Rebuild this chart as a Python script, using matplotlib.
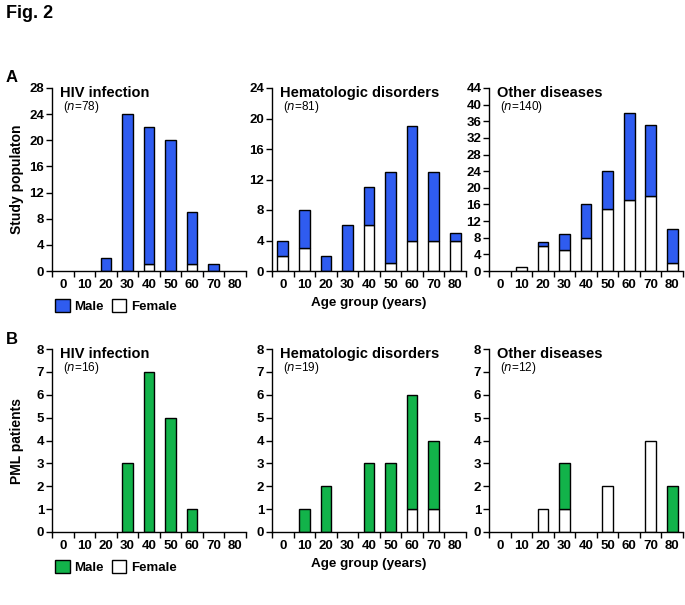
import matplotlib
matplotlib.use("Agg")
import matplotlib.pyplot as plt
from matplotlib.patches import Patch
import numpy as np

plt.rcParams['font.family'] = ['Liberation Sans', 'DejaVu Sans']

age_groups = ["0", "10", "20", "30", "40", "50", "60", "70", "80"]

# Panel A: study population (male, female)
a_hiv_male = [0, 0, 2, 24, 21, 20, 8, 1, 0]
a_hiv_female = [0, 0, 0, 0, 1, 0, 1, 0, 0]
a_hem_male = [2, 5, 2, 6, 5, 12, 15, 9, 1]
a_hem_female = [2, 3, 0, 0, 6, 1, 4, 4, 4]
a_oth_male = [0, 0, 1, 4, 8, 9, 21, 17, 8]
a_oth_female = [0, 1, 6, 5, 8, 15, 17, 18, 2]

# Panel B: PML patients (male, female)
b_hiv_male = [0, 0, 0, 3, 7, 5, 1, 0, 0]
b_hiv_female = [0, 0, 0, 0, 0, 0, 0, 0, 0]
b_hem_male = [0, 1, 2, 0, 3, 3, 5, 3, 0]
b_hem_female = [0, 0, 0, 0, 0, 0, 1, 1, 0]
b_oth_male = [0, 0, 0, 2, 0, 0, 0, 0, 2]
b_oth_female = [0, 0, 1, 1, 0, 2, 0, 4, 0]

titles = ["HIV infection", "Hematologic disorders", "Other diseases"]
a_n = ["78", "81", "140"]
b_n = ["16", "19", "12"]
a_ymax = [28, 24, 44]
a_ystep = [4, 4, 4]
b_ymax = [8, 8, 8]
b_ystep = [1, 1, 1]

blue = "#2f5cf0"
green = "#12b34a"

W, H = 685, 605
fig = plt.figure(figsize=(W / 100, H / 100), dpi=100)

lefts = [52, 272, 489]
aw = 194
row_tops = [88, 349]
ah = 183


def make_ax(px_left, px_top):
    return fig.add_axes([px_left / W, 1 - (px_top + ah) / H, aw / W, ah / H])


def draw(ax, male, female, color, ymax, ystep, title, n):
    x = np.arange(len(age_groups))
    female = np.array(female, dtype=float)
    male = np.array(male, dtype=float)
    lw_f = np.where(female > 0, 1.0, 0.0)
    lw_m = np.where(male > 0, 1.0, 0.0)
    ax.bar(x, female, width=0.5, color="white", edgecolor="black", linewidth=lw_f, zorder=2)
    ax.bar(x, male, width=0.5, bottom=female, color=color, edgecolor="black", linewidth=lw_m, zorder=2)
    ax.set_xlim(-0.5, len(age_groups) - 0.5)
    ax.set_ylim(0, ymax)
    ax.set_yticks(np.arange(0, ymax + 0.01, ystep))
    ax.set_xticks(x)
    ax.set_xticklabels(age_groups)
    ax.set_xticks(np.arange(-0.5, len(age_groups)), minor=True)
    ax.tick_params(axis='x', which='major', length=0, pad=6, labelsize=9.5)
    ax.tick_params(axis='x', which='minor', length=4, width=1, direction='out')
    ax.tick_params(axis='y', length=4, width=1, direction='out', labelsize=9.5, pad=1.5)
    for lab in ax.get_xticklabels() + ax.get_yticklabels():
        lab.set_fontweight('bold')
    for s in ['top', 'right']:
        ax.spines[s].set_visible(False)
    for s in ['left', 'bottom']:
        ax.spines[s].set_linewidth(1.0)
    ax.text(0.04, 1.01, title, transform=ax.transAxes, fontsize=10.5,
            fontweight='bold', va='top', ha='left')
    ax.text(0.055, 0.895, r"($\it{n}$=" + n + ")", transform=ax.transAxes,
            fontsize=8.5, va='center', ha='left')


rows = [
    (row_tops[0], [(a_hiv_male, a_hiv_female), (a_hem_male, a_hem_female), (a_oth_male, a_oth_female)],
     blue, a_ymax, a_ystep, a_n),
    (row_tops[1], [(b_hiv_male, b_hiv_female), (b_hem_male, b_hem_female), (b_oth_male, b_oth_female)],
     green, b_ymax, b_ystep, b_n),
]

for top, data, color, ymaxs, ysteps, ns in rows:
    axs = []
    for i in range(3):
        ax = make_ax(lefts[i], top)
        draw(ax, data[i][0], data[i][1], color, ymaxs[i], ysteps[i], titles[i], ns[i])
        axs.append(ax)
    handles = [Patch(facecolor=color, edgecolor='black', linewidth=1.0, label='Male'),
               Patch(facecolor='white', edgecolor='black', linewidth=1.0, label='Female')]
    axs[0].legend(handles=handles, ncol=2, frameon=False, loc='upper left',
                  bbox_to_anchor=(-0.01, -0.125), handlelength=1.1, handleheight=1.1,
                  handletextpad=0.35, columnspacing=0.6, borderaxespad=0,
                  prop={'weight': 'bold', 'size': 9.5})
    axs[1].text(0.5, -0.175, "Age group (years)", transform=axs[1].transAxes,
                ha='center', va='center', fontsize=9.7, fontweight='bold')

fig.text(17 / W, 1 - (row_tops[0] + ah / 2) / H, "Study populaton", rotation=90,
         ha='center', va='center', fontsize=10, fontweight='bold')
fig.text(17 / W, 1 - (row_tops[1] + ah / 2) / H, "PML patients", rotation=90,
         ha='center', va='center', fontsize=10, fontweight='bold')

fig.text(6 / W, 1 - 14 / H, "Fig. 2", ha='left', va='center', fontsize=13, fontweight='bold')
fig.text(6 / W, 1 - 77 / H, "A", ha='left', va='center', fontsize=12, fontweight='bold')
fig.text(6 / W, 1 - 339 / H, "B", ha='left', va='center', fontsize=12, fontweight='bold')

fig.savefig("out.png", dpi=100)
